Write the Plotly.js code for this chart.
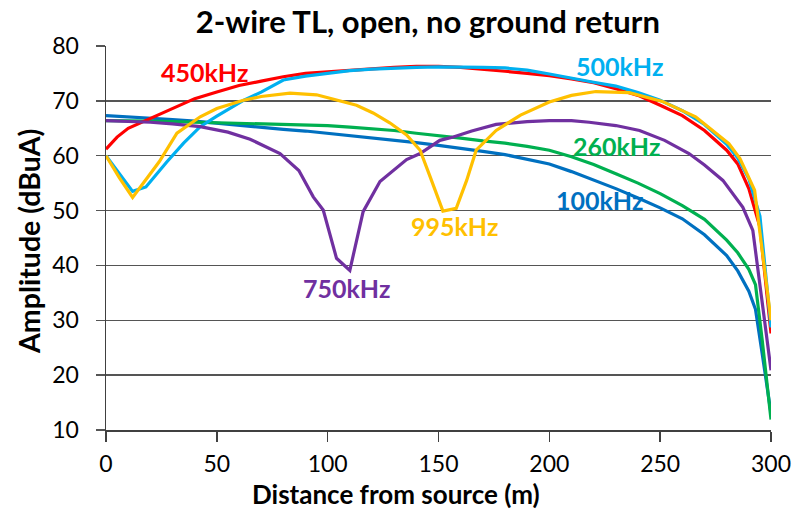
<!DOCTYPE html>
<html>
<head>
<meta charset="utf-8">
<script src="https://cdn.plot.ly/plotly-3.0.1.min.js"></script>
<style>html,body{margin:0;padding:0;background:#fff;}#chart{width:799px;height:518px;}</style>
</head>
<body>
<div id="chart"></div>
<script>
const seriesNames = ["100kHz", "260kHz", "450kHz", "500kHz", "750kHz", "995kHz"];
const seriesColors = ["#0070C0", "#00B050", "#FF0000", "#00B0F0", "#7030A0", "#FFC000"];

const x100 = [0,10,20,30,40,50,60,70,80,90,100,110,120,130,140,150,160,170,180,190,200,210,220,230,240,250,260,270,280,285,290,293,296,300];
const y100 = [67.3,67.1,66.8,66.6,66.3,65.9,65.5,65.2,64.8,64.5,64.1,63.6,63.2,62.8,62.4,61.9,61.4,60.8,60.2,59.4,58.5,57.1,55.6,54.0,52.3,50.5,48.5,45.6,41.8,39.0,35.3,32.0,24.0,13.0];

const x260 = [0,10,20,30,40,50,60,70,80,90,100,110,120,130,140,150,160,170,180,190,200,210,220,230,240,250,260,270,280,285,290,293,296,300];
const y260 = [66.4,66.4,66.3,66.2,66.1,66.0,65.9,65.8,65.7,65.6,65.5,65.2,64.9,64.6,64.1,63.7,63.2,62.7,62.3,61.7,61.0,59.8,58.4,56.7,55.0,53.1,50.9,48.4,44.6,42.3,39.3,36.5,26.5,11.9];

const x450 = [0,5,10,20,30,40,50,60,70,80,90,100,110,120,130,140,150,160,170,180,190,200,210,220,230,240,250,260,270,280,285,290,295,300];
const y450 = [61.2,63.4,65.0,66.8,68.7,70.4,71.6,72.8,73.6,74.4,75.0,75.3,75.6,75.9,76.1,76.3,76.3,76.1,75.8,75.4,75.0,74.6,74.0,73.3,72.2,71.0,69.2,67.3,64.6,61.0,58.5,54.0,47.0,27.6];

const x500 = [0,6,12,18,21,27.5,35,42.5,50,62,70,80,90,100,110,120,130,140,150,160,170,180,190,200,210,220,230,240,250,260,270,280,285,290,295,300];
const y500 = [60.0,56.8,53.5,54.3,55.8,58.9,62.3,65.3,67.2,70.1,71.6,73.8,74.5,75.0,75.5,75.8,76.0,76.1,76.2,76.2,76.1,76.0,75.6,74.9,74.1,73.4,72.7,71.5,70.1,68.2,65.7,62.1,59.6,55.8,49.0,28.7];

const x750 = [0,10,20,30,42.5,55,65,78.5,87,93.5,98,104,110,116,123.6,135.6,141.7,150.6,156.7,165,176,190,200,210,218,230,240.7,252,263,270,278.3,287.3,291.8,300];
const y750 = [66.4,66.3,66.1,65.8,65.3,64.3,63.0,60.4,57.3,52.5,50.1,41.3,39.1,49.8,55.3,59.3,60.4,62.8,63.4,64.5,65.7,66.2,66.4,66.4,66.1,65.5,64.6,62.8,60.4,58.3,55.5,50.6,46.4,20.9];

const x995 = [0,6,12,18,24,32,42.5,50,62,70,83,95,105,113,120.5,128,135.6,141.7,146.2,152,158,162.7,167,176,187,200,210,221,236,251,266,281,286,292.6,300];
const y995 = [60.0,56.0,52.4,55.6,58.9,64.1,67.1,68.6,70.1,70.8,71.4,71.1,70.1,69.2,67.8,66.0,63.8,61.0,56.2,49.9,50.4,55.5,61.0,64.6,67.4,69.8,71.0,71.7,71.5,69.9,67.1,62.2,59.5,53.7,30.0];

const xData = [x100, x260, x450, x500, x750, x995];
const yData = [y100, y260, y450, y500, y750, y995];

// label anchor points (data coordinates)
const labelX = [222.7, 230.4, 44.6, 231.7, 108.7, 157.3];
const labelY = [51.9, 61.8, 75.3, 76.4, 35.8, 47.2];

const titleText = "2-wire TL, open, no ground return";
const xTitle = "Distance from source (m)";
const yTitle = "Amplitude (dBuA)";
const xTicks = [0, 50, 100, 150, 200, 250, 300];
const yTicks = [10, 20, 30, 40, 50, 60, 70, 80];

const FONT = "Lato, 'Open Sans', sans-serif";

const traces = seriesNames.map((n, i) => ({
  x: xData[i], y: yData[i], name: n, type: "scatter", mode: "lines",
  line: {color: seriesColors[i], width: 3.2}, hoverinfo: "skip"
}));

const annotations = seriesNames.map((n, i) => ({
  x: labelX[i], y: labelY[i], xref: "x", yref: "y", text: "<b>" + n + "</b>",
  showarrow: false, font: {family: FONT, size: 25, color: seriesColors[i]},
  xanchor: "center", yanchor: "middle"
}));

annotations.push({
  x: 0.436, y: -0.167, xref: "paper", yref: "paper", text: "<b>" + xTitle + "</b>",
  showarrow: false, font: {family: FONT, size: 26, color: "#000"},
  xanchor: "center", yanchor: "middle"
});
annotations.push({
  x: -0.116, y: 0.492, xref: "paper", yref: "paper", text: "<b>" + yTitle + "</b>",
  showarrow: false, textangle: -90, font: {family: FONT, size: 28.5, color: "#000"},
  xanchor: "center", yanchor: "middle"
});

const layout = {
  width: 799, height: 518,
  margin: {l: 106, r: 28, t: 46, b: 88},
  paper_bgcolor: "#fff", plot_bgcolor: "#fff",
  showlegend: false,
  title: {text: "<b>" + titleText + "</b>", font: {family: FONT, size: 31, color: "#000"},
          x: 0.484, xref: "paper", xanchor: "center", y: 0.957, yref: "container", yanchor: "middle"},
  xaxis: {
    range: [0, 300], tickvals: xTicks, ticktext: xTicks.map(String),
    showgrid: false, zeroline: false,
    showline: true, linecolor: "#404040", linewidth: 1.5,
    ticks: "outside", ticklen: 10, tickwidth: 1.5, tickcolor: "#404040",
    ticklabelstandoff: 3,
    tickfont: {family: FONT, size: 23, color: "#000"}
  },
  yaxis: {
    range: [10, 80], tickvals: yTicks, ticktext: yTicks.map(String),
    showgrid: true, gridcolor: "#555", gridwidth: 1.5, zeroline: false,
    showline: true, linecolor: "#404040", linewidth: 1.5,
    ticks: "outside", ticklen: 9, tickwidth: 1.5, tickcolor: "#555",
    ticklabelstandoff: 12,
    tickfont: {family: FONT, size: 23, color: "#000"}
  },
  annotations: annotations
};

Plotly.newPlot("chart", traces, layout, {staticPlot: true, displayModeBar: false});
</script>
</body>
</html>
